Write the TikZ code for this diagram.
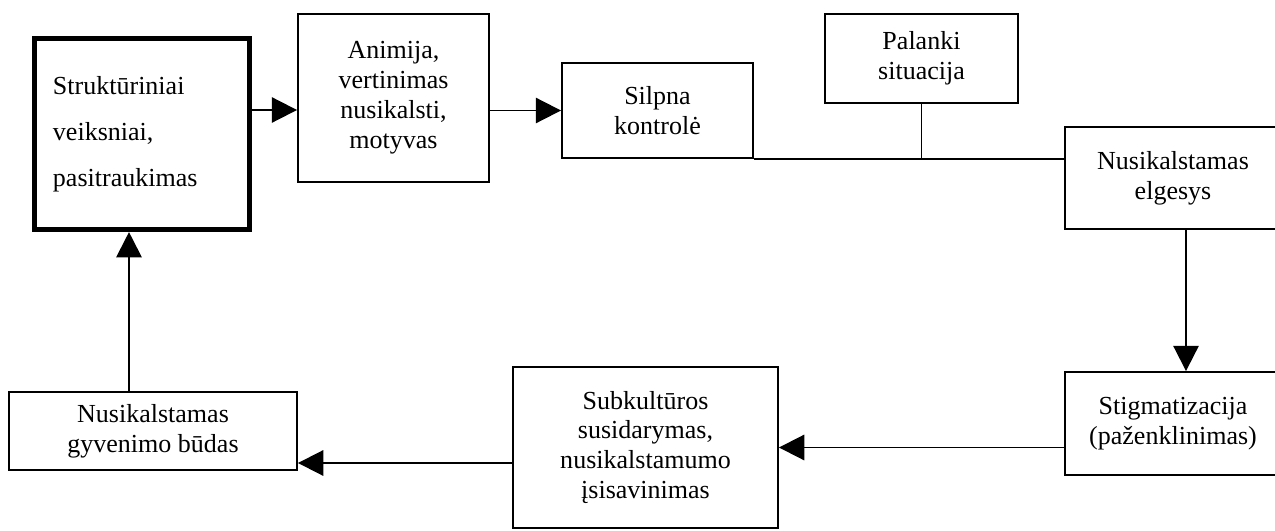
\documentclass[tikz,border=0pt]{standalone}
\usepackage{fontspec}
\setmainfont{Liberation Serif}
\usetikzlibrary{arrows.meta, positioning}

\begin{document}
\begin{tikzpicture}[
    x=0.025cm, y=-0.025cm,
    >={Triangle[length=18pt, width=18pt]},
    box/.style={draw, rectangle, line width=1.3pt, inner sep=0pt, align=center, font=\fontsize{18.5pt}{21.3pt}\selectfont},
    main box/.style={box, line width=3.6pt, align=left, text width=4.45cm, inner xsep=0.4625cm, font=\fontsize{18.5pt}{32.7pt}\selectfont},
    link/.style={line width=1.4pt}
]
    \clip (0,0) rectangle (1275,531);

    % --- TOP ROW ---
    \node[main box, minimum height=4.775cm] (struct) at (142,134) {Strukt\={u}riniai\\veiksniai,\\pasitraukimas};
    \node[box, minimum width=4.775cm, minimum height=4.2cm] (anim) at (393.5,98) {Animija,\\vertinimas\\nusikalsti,\\motyvas};
    \node[box, minimum width=4.775cm, minimum height=2.375cm] (silpna) at (657.5,110.5) {Silpna\\kontrolė};
    \node[box, minimum width=4.825cm, minimum height=2.225cm] (palanki) at (921.5,58.5) {Palanki\\situacija};
    \node[box, minimum width=5.4cm, minimum height=2.55cm] (nusik) at (1173,178) {Nusikalstamas\\elgesys};

    % --- BOTTOM ROW ---
    \node[box, minimum width=5.4cm, minimum height=2.575cm] (stig) at (1173,423.5) {Stigmatizacija\\(paženklinimas)};
    \node[box, minimum width=6.625cm, minimum height=4.025cm] (subk) at (645.5,447.5) {Subkult\={u}ros\\susidarymas,\\nusikalstamumo\\įsisavinimas};
    \node[box, minimum width=7.2cm, minimum height=1.95cm] (gyv) at (153,431) {Nusikalstamas\\gyvenimo b\={u}das};

    % helper points for off-centre connectors
    \coordinate (row1) at (0,110);
    \coordinate (drop) at (1186,0);
    \coordinate (row2) at (0,463);
    \coordinate (rise) at (129,0);

    % --- EDGES ---
    \draw[link, ->] (struct.east |- row1) -- (anim.west |- row1);
    \draw[link, ->] (anim.east |- silpna.west) -- (silpna.west);
    \draw[link] (silpna.south east) -- (silpna.south east -| nusik.west);
    \draw[link] (palanki.south) -- (palanki.south |- silpna.south);
    \draw[link, ->] (nusik.south -| drop) -- (stig.north -| drop);
    \draw[link, ->] (stig.west |- subk.east) -- (subk.east);
    \draw[link, ->] (subk.west |- row2) -- (gyv.east |- row2);
    \draw[link, ->] (gyv.north -| rise) -- (struct.south -| rise);

\end{tikzpicture}
\end{document}
